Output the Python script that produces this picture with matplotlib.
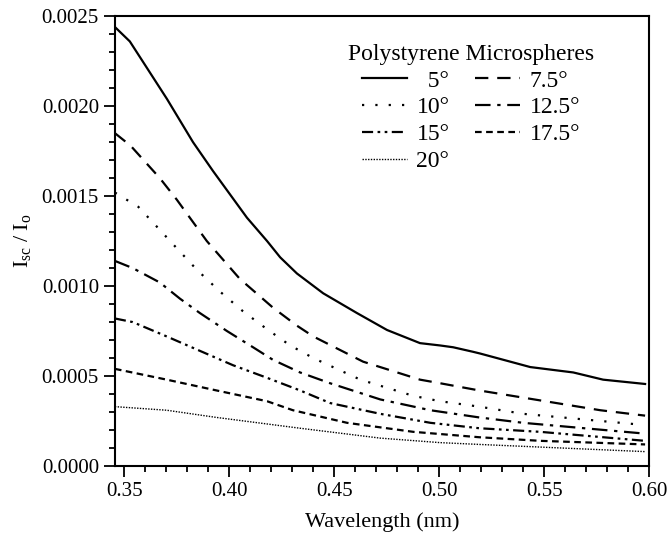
import matplotlib.pyplot as plt
from matplotlib.ticker import MultipleLocator, FormatStrFormatter

plt.rcParams['font.family'] = ['Liberation Serif', 'DejaVu Serif']
plt.rcParams['mathtext.fontset'] = 'stix'

# wavelength / intensity ratio pairs
x_5 = [0.3455, 0.3526, 0.3609, 0.3703, 0.3765, 0.3827, 0.3922, 0.4084, 0.418, 0.4242, 0.4322,
       0.4447, 0.4608, 0.4751, 0.4908, 0.5004, 0.5066, 0.516, 0.5195, 0.5433, 0.5638, 0.578, 0.598]
y_5 = [0.00244, 0.00236, 0.00221, 0.00204, 0.00192, 0.00180, 0.00164, 0.00138, 0.00125, 0.00116, 0.00107,
       0.00096, 0.00085, 0.000756, 0.000683, 0.00067, 0.00066, 0.000635, 0.000625, 0.00055, 0.00052, 0.00048, 0.000456]

x_75 = [0.3455, 0.353, 0.3669, 0.375, 0.3812, 0.3893, 0.405, 0.4208, 0.4322, 0.44, 0.4637, 0.4908,
        0.5004, 0.519, 0.54, 0.5767, 0.598]
y_75 = [0.00185, 0.00178, 0.00160, 0.00148, 0.00138, 0.00125, 0.00104, 0.00088, 0.00078, 0.00072, 0.00058, 0.00048,
        0.00046, 0.00042, 0.00038, 0.00031, 0.00028]

x_10 = [0.3455, 0.3567, 0.3655, 0.375, 0.3846, 0.3955, 0.4065, 0.418, 0.429, 0.44, 0.4624, 0.4876,
        0.5004, 0.519, 0.54, 0.5957]
y_10 = [0.00152, 0.00144, 0.00133, 0.00121, 0.00109, 0.00097, 0.00086, 0.00076, 0.00067, 0.00060, 0.00048, 0.00039,
        0.00036, 0.00033, 0.00029, 0.00023]

x_125 = [0.3455, 0.354, 0.3669, 0.3765, 0.386, 0.3989, 0.4113, 0.4208, 0.4337, 0.448, 0.4719, 0.4958,
         0.519, 0.54, 0.598]
y_125 = [0.00114, 0.00110, 0.00102, 0.00093, 0.00085, 0.00075, 0.00066, 0.00059, 0.00052, 0.00046, 0.00037, 0.00031,
         0.00027, 0.00024, 0.00018]

x_15 = [0.3455, 0.354, 0.3702, 0.386, 0.4018, 0.418, 0.4337, 0.448, 0.4719, 0.4958, 0.519, 0.548, 0.598]
y_15 = [0.00082, 0.00080, 0.00072, 0.00064, 0.00056, 0.00049, 0.00042, 0.00035, 0.00029, 0.00024, 0.00021, 0.00019, 0.00014]

x_175 = [0.3455, 0.3702, 0.3939, 0.418, 0.4303, 0.4561, 0.4876, 0.519, 0.548, 0.598]
y_175 = [0.00054, 0.00048, 0.00042, 0.00036, 0.00031, 0.00024, 0.00019, 0.00016, 0.00014, 0.00012]

x_20 = [0.3455, 0.3702, 0.3939, 0.4337, 0.4719, 0.5004, 0.519, 0.598]
y_20 = [0.00033, 0.00031, 0.00027, 0.00021, 0.000155, 0.00013, 0.00012, 0.00008]

fig = plt.figure(figsize=(6.68, 5.4), dpi=100)
ax = fig.add_axes([0.172, 0.137, 0.800, 0.833])

h5, = ax.plot(x_5, y_5, color='black', lw=1.6, ls='-', label='  5°')
h75, = ax.plot(x_75, y_75, color='black', lw=1.6, ls=(0, (6, 4)), label='7.5°')
h10, = ax.plot(x_10, y_10, color='black', lw=1.6, ls=(0, (1, 5)), label='10°')
h125, = ax.plot(x_125, y_125, color='black', lw=1.6, ls=(0, (7, 3, 1.5, 3)), label='12.5°')
h15, = ax.plot(x_15, y_15, color='black', lw=1.6, ls=(0, (5, 2, 1.2, 2, 1.2, 2)), label='15°')
h175, = ax.plot(x_175, y_175, color='black', lw=1.6, ls=(0, (3, 2)), label='17.5°')
h20, = ax.plot(x_20, y_20, color='black', lw=1.0, ls=(0, (1, 1)), label='20°')

ax.set_xlim(0.3455, 0.60)
ax.set_ylim(0, 0.0025)
ax.xaxis.set_major_locator(MultipleLocator(0.05))
ax.xaxis.set_minor_locator(MultipleLocator(0.01))
ax.yaxis.set_major_locator(MultipleLocator(0.0005))
ax.yaxis.set_minor_locator(MultipleLocator(0.0001))
ax.xaxis.set_major_formatter(FormatStrFormatter('%.2f'))
ax.yaxis.set_major_formatter(FormatStrFormatter('%.4f'))
ax.tick_params(which='both', direction='out', top=False, right=False, labelsize=15, width=1.3)
ax.tick_params(which='major', length=8)
ax.tick_params(which='minor', length=4.5)
for s in ax.spines.values():
    s.set_linewidth(1.5)

ax.set_xlabel('Wavelength (nm)', fontsize=16, labelpad=8)
ax.set_ylabel(r'$\mathregular{I_{sc}\ /\ I_o}$', fontsize=16, labelpad=6)

leg = ax.legend(handles=[h5, h10, h15, h20, h75, h125, h175], ncol=2, frameon=False,
                title='Polystyrene Microspheres', fontsize=17, title_fontsize=17,
                loc='upper right', bbox_to_anchor=(0.928, 0.975), handlelength=1.9,
                columnspacing=1.1, handletextpad=0.4, labelspacing=0.22,
                borderpad=0.2)

fig.savefig('out.png', dpi=100)
